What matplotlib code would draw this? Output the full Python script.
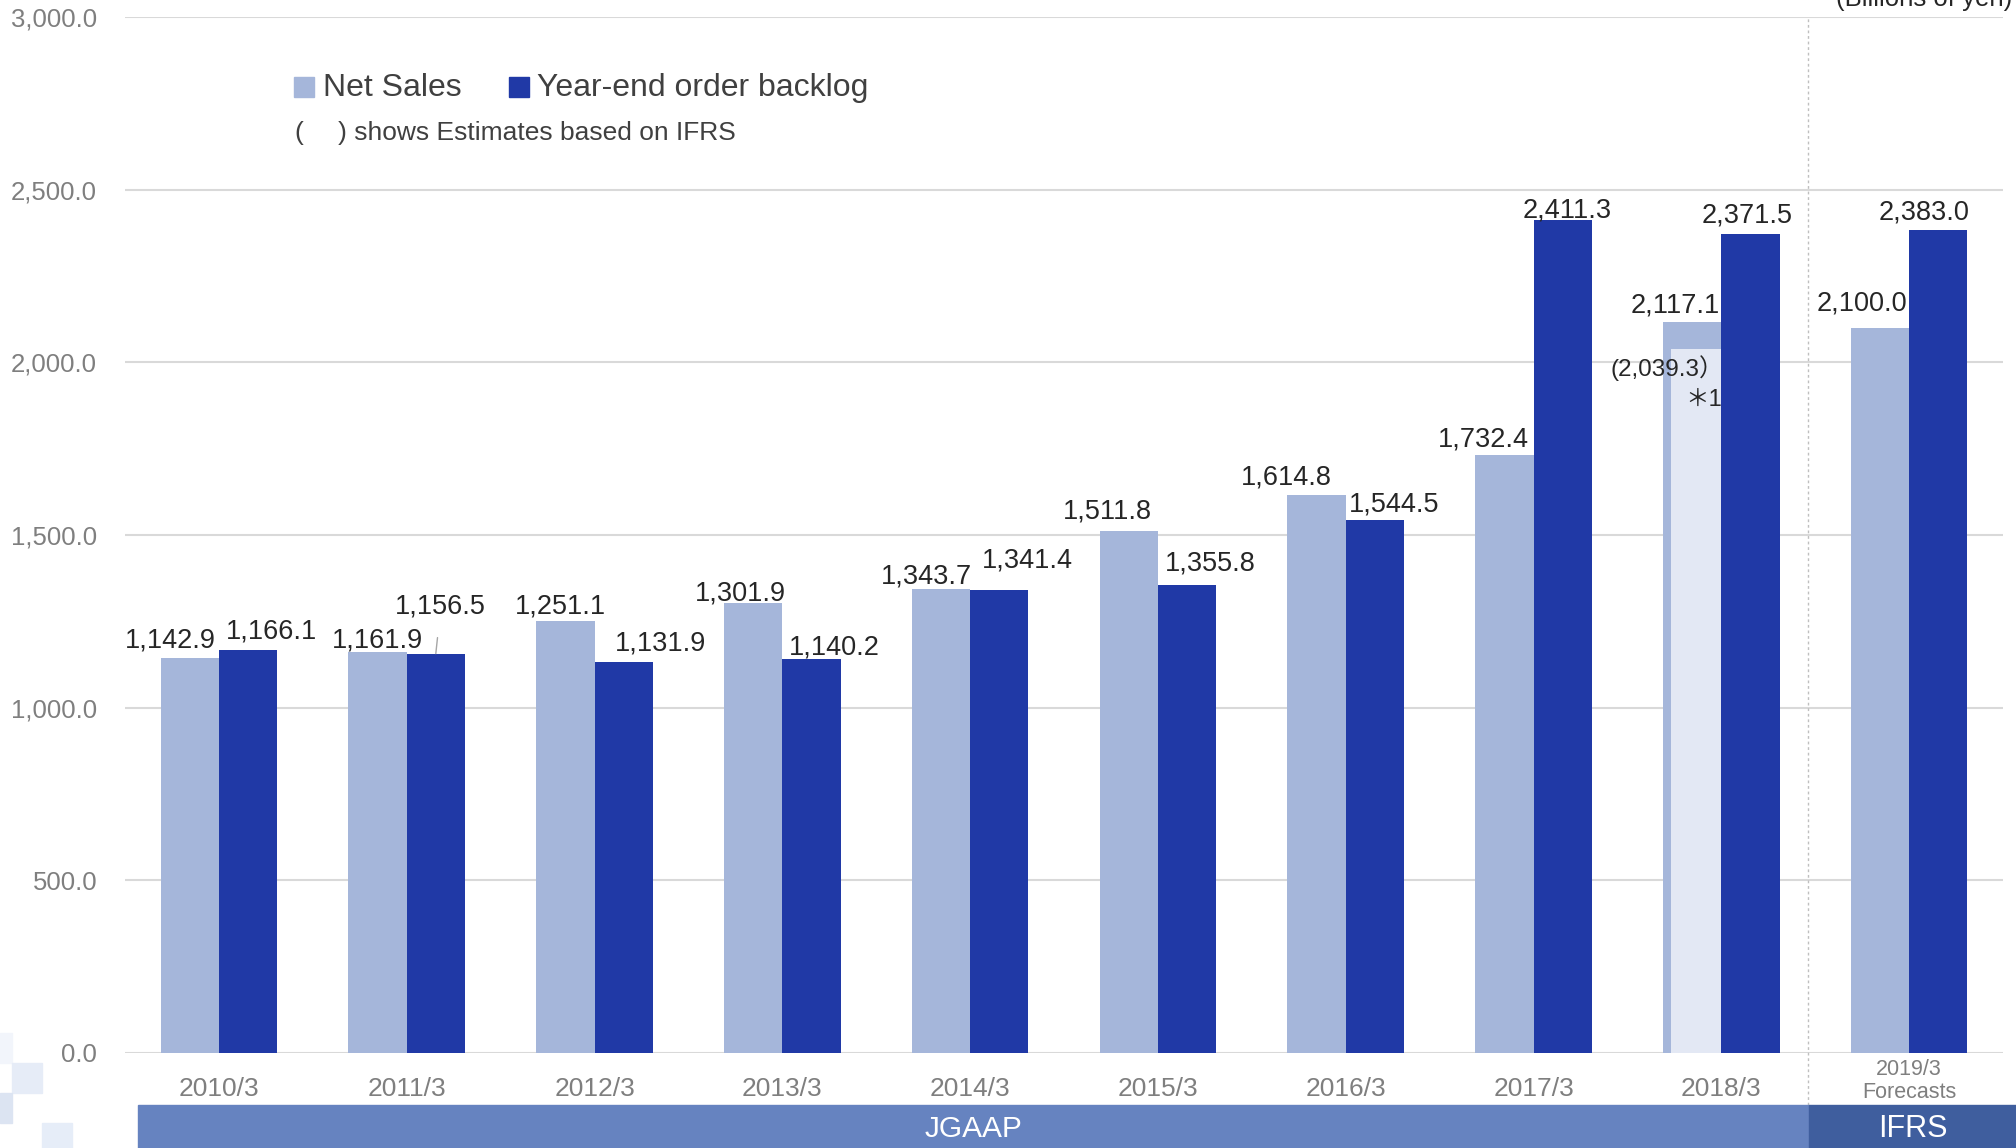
#!/usr/bin/env python3
# -*- coding: utf-8 -*-

import matplotlib
matplotlib.use("Agg")
import matplotlib.pyplot as plt
from matplotlib.patches import Rectangle
import numpy as np

plt.rcParams['font.family'] = ['Liberation Sans', 'DejaVu Sans', 'Noto Sans CJK JP']

# Donnees (milliards de yens)
years = ['2010/3', '2011/3', '2012/3', '2013/3', '2014/3', '2015/3',
         '2016/3', '2017/3', '2018/3', '2019/3']
forecast_label = '2019/3\nForecasts'
net_sales = [1142.9, 1161.9, 1251.1, 1301.9, 1343.7, 1511.8,
             1614.8, 1732.4, 2117.1, 2100.0]
backlog = [1166.1, 1156.5, 1131.9, 1140.2, 1341.4, 1355.8,
           1544.5, 2411.3, 2371.5, 2383.0]
ifrs_estimate = 2039.3   # 2018/3 net sales under IFRS
yticks = [0, 500, 1000, 1500, 2000, 2500, 3000]

# Couleurs
c_net = '#A5B6DA'
c_back = '#2039A6'
c_ifrs = '#E3E8F4'
c_text = '#262626'
c_tick = '#7F7F7F'

W, H = 2016, 1148
fig = plt.figure(figsize=(W / 100, H / 100), dpi=100)
ax = fig.add_axes([125 / W, 1 - 1053 / H, (2003 - 125) / W, (1053 - 17) / H])

x = np.arange(len(years))
bw = 0.31
ax.bar(x - bw / 2, net_sales, bw, color=c_net, zorder=2)
ax.bar(x + bw / 2, backlog, bw, color=c_back, zorder=2)
# IFRS estimate inset inside 2018/3 net sales bar
ax.bar(8 - bw + 0.043, ifrs_estimate, bw - 0.043, align='edge', color=c_ifrs, zorder=3)

# value labels (pixel offsets from bar tops)
net_dx = [-19, 0, -5, -13, -15, -21, -30, -21, -17, -18]
net_dy = [18, 11, 14, 10, 12, 19, 18, 15, 16, 24]
back_dx = [23, 5, 37, 23, 28, 23, 19, 5, -3, -14]
back_dy = [19, 47, 19, 12, 29, 21, 15, 10, 19, 18]
for i in range(len(years)):
    ax.annotate(f'{net_sales[i]:,.1f}', (x[i] - bw / 2, net_sales[i]),
                xytext=(net_dx[i], net_dy[i]), textcoords='offset pixels',
                ha='center', va='center', fontsize=19.5, color=c_text, zorder=5)
    arrow = None
    if i == 1:
        arrow = dict(arrowstyle='-', color='#A6A6A6', lw=1, shrinkA=11, shrinkB=0)
    ax.annotate(f'{backlog[i]:,.1f}', (x[i] + bw / 2, backlog[i]),
                xytext=(back_dx[i], back_dy[i]), textcoords='offset pixels',
                ha='center', va='center', fontsize=19.5, color=c_text,
                arrowprops=arrow, zorder=5)

ax.annotate(f'({ifrs_estimate:,.1f}）', (8 - bw, ifrs_estimate),
            xytext=(4, -19), textcoords='offset pixels',
            ha='center', va='center', fontsize=17.5, color=c_text, zorder=5,
            family=['Liberation Sans', 'Noto Sans CJK JP'])
ax.annotate('＊1', (8 - bw / 2, ifrs_estimate),
            xytext=(11, -51), textcoords='offset pixels',
            ha='center', va='center', fontsize=17, color=c_text, zorder=5,
            family=['Liberation Sans', 'Noto Sans CJK JP'])

# axes
ax.set_xlim(-0.5, len(years) - 0.5)
ax.set_ylim(0, 3000)
ax.set_yticks(yticks)
ax.set_yticklabels([f'{v:,.1f}' for v in yticks])
ax.set_xticks(x)
ax.set_xticklabels(years[:-1] + [''])
ax.tick_params(axis='y', length=0, pad=20, labelsize=18.5, labelcolor=c_tick)
ax.tick_params(axis='x', length=0, pad=17, labelsize=19, labelcolor=c_tick)
ax.grid(axis='y', color='#D9D9D9', lw=1.5, zorder=0)
ax.set_axisbelow(True)
for s in ax.spines.values():
    s.set_visible(False)

ax.text(x[-1], -0.027, forecast_label, transform=ax.get_xaxis_transform(),
        ha='center', va='center', fontsize=15.5, color=c_tick, linespacing=1.15)

# separation JGAAP / IFRS
ax.axvline(8.46, ymin=-0.05, ymax=1, clip_on=False, ls=(0, (2, 2)),
           color='#BFBFBF', lw=1, zorder=1)

# bandeau du bas
fig.patches.append(Rectangle((138 / W, 0), (1809 - 138) / W, 43 / H,
                             transform=fig.transFigure, color='#6683C0', zorder=0))
fig.patches.append(Rectangle((1809 / W, 0), (W - 1809) / W, 43 / H,
                             transform=fig.transFigure, color='#3F5E9E', zorder=0))
fig.text((138 + 1809) / 2 / W, 1 - 1129 / H, 'JGAAP', ha='center', va='center',
         fontsize=21.5, color='white')
fig.text((1809 + W) / 2 / W, 1 - 1129 / H, 'IFRS', ha='center', va='center',
         fontsize=22, color='white')

# petits carres decoratifs en bas a gauche
for (x0, y0, w, h, c) in [(0, 1033, 12, 30, '#F2F5FB'), (12, 1063, 30, 30, '#E6ECF7'),
                          (0, 1093, 12, 30, '#DCE4F2'), (42, 1123, 30, 25, '#E6EDF8')]:
    fig.patches.append(Rectangle((x0 / W, 1 - (y0 + h) / H), w / W, h / H,
                                 transform=fig.transFigure, color=c, zorder=0))

# legende manuelle
for (x0, c) in [(294, c_net), (509, c_back)]:
    fig.patches.append(Rectangle((x0 / W, 1 - 97 / H), 20 / W, 20 / H,
                                 transform=fig.transFigure, color=c))
fig.text(323 / W, 1 - 88 / H, 'Net Sales', ha='left', va='center',
         fontsize=23, color='#404040')
fig.text(537 / W, 1 - 88 / H, 'Year-end order backlog', ha='left', va='center',
         fontsize=23, color='#404040')
fig.text(294 / W, 1 - 133 / H, '(', ha='left', va='center', fontsize=19, color='#404040')
fig.text(338 / W, 1 - 133 / H, ') shows Estimates based on IFRS', ha='left', va='center',
         fontsize=19, color='#404040')

fig.text(2012 / W, 1 - 6 / H, '(Billions of yen)', ha='right', va='baseline',
         fontsize=18.5, color=c_text)

fig.savefig('out.png', dpi=100)
